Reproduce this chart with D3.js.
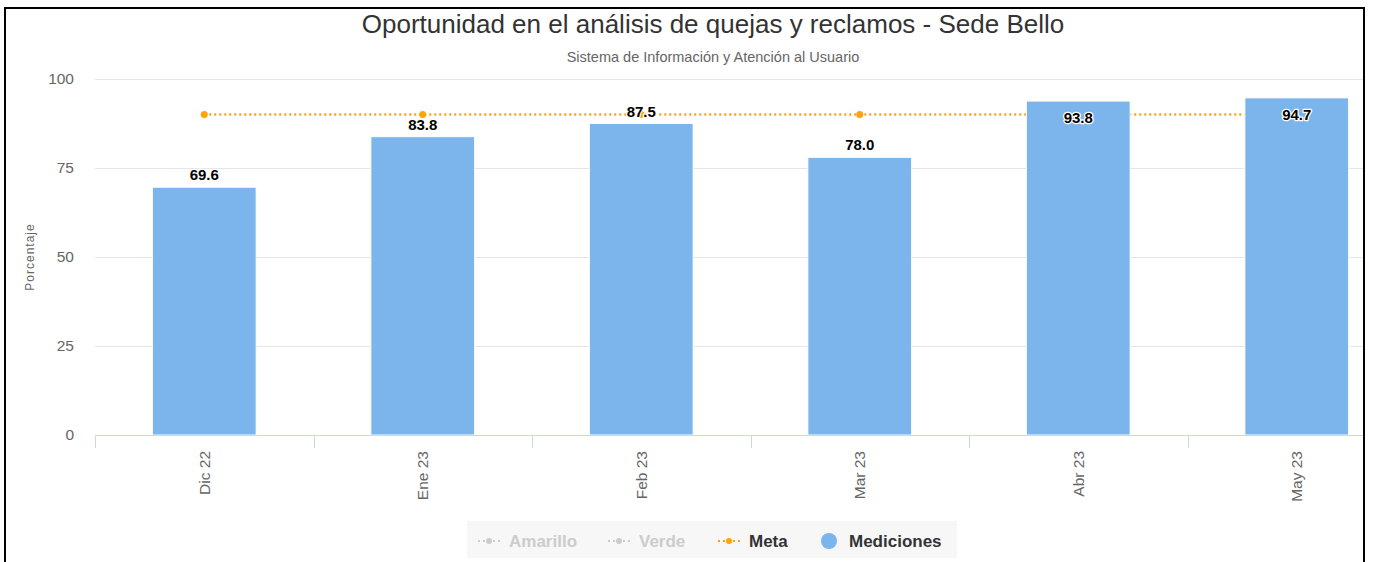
<!DOCTYPE html>
<html>
<head>
<meta charset="utf-8">
<script src="https://cdn.jsdelivr.net/npm/d3@7"></script>
<style>
  body { margin: 0; background: #fff; }
  svg { display: block; font-family: "Liberation Sans", Arial, sans-serif; }
</style>
</head>
<body>
<svg id="chart" width="1373" height="562"></svg>
<script>
var categories = ["Dic 22", "Ene 23", "Feb 23", "Mar 23", "Abr 23", "May 23"],
    mediciones = [69.6, 83.8, 87.5, 78.0, 93.8, 94.7],
    meta       = [90, 90, 90, 90, 90, 90],
    yTicks     = [0, 25, 50, 75, 100]

var legendItems = [
  { name: "Amarillo",   type: "line", color: "#cccccc", hidden: true },
  { name: "Verde",      type: "line", color: "#cccccc", hidden: true },
  { name: "Meta",       type: "line", color: "#ffa500", hidden: false },
  { name: "Mediciones", type: "dot",  color: "#7cb5ec", hidden: false }
]

var svg = d3.select("#chart")

// plot area runs past the frame on the right, the frame clips it
var margin = {top: 79, left: 95},
    plotW  = 1311,
    plotH  = 356

svg.append("defs").append("clipPath").attr("id", "frameclip")
  .append("rect").attr("x", 6).attr("y", 8).attr("width", 1358).attr("height", 560)

var x = d3.scaleBand()
  .domain(categories)
  .range([margin.left, margin.left + plotW])
  .paddingInner(0.525)
  .paddingOuter(0.2625)

var y = d3.scaleLinear()
  .domain([0, 100])
  .range([margin.top + plotH, margin.top])

var cx = d => x(d) + x.bandwidth() / 2

var g = svg.append("g").attr("clip-path", "url(#frameclip)")

// gridlines
g.append("g").selectAll("line")
  .data(yTicks.filter(t => t > 0))
  .join("line")
    .attr("x1", margin.left)
    .attr("x2", margin.left + plotW)
    .attr("y1", d => y(d) + 0.5)
    .attr("y2", d => y(d) + 0.5)
    .attr("stroke", "#e6e6e6")

// meta line (drawn under the bars)
var line = d3.line()
  .x((d, i) => cx(categories[i]))
  .y(d => y(d))

g.append("path")
  .datum(meta)
  .attr("fill", "none")
  .attr("stroke", "#ffa500")
  .attr("stroke-width", 2.5)
  .attr("stroke-dasharray", "2,3")
  .attr("d", line)

g.append("g").selectAll("circle")
  .data(meta)
  .join("circle")
    .attr("cx", (d, i) => cx(categories[i]))
    .attr("cy", d => y(d))
    .attr("r", 3.5)
    .attr("fill", "#ffa500")

// bars
g.append("g").selectAll("rect")
  .data(mediciones)
  .join("rect")
    .attr("x", (d, i) => x(categories[i]))
    .attr("y", d => y(d))
    .attr("width", x.bandwidth())
    .attr("height", d => y(0) - y(d))
    .attr("fill", "#7cb5ec")
    .attr("stroke", "#ffffff")
    .attr("stroke-width", 1)

// data labels
g.append("g").selectAll("text")
  .data(mediciones)
  .join("text")
    .attr("x", (d, i) => cx(categories[i]))
    .attr("y", d => (y(d) - 24 < margin.top) ? y(d) + 22 : y(d) - 7)
    .attr("text-anchor", "middle")
    .attr("font-size", 15)
    .attr("font-weight", "bold")
    .attr("fill", "#000")
    .attr("stroke", "#fff")
    .attr("stroke-width", 2.5)
    .attr("stroke-linejoin", "round")
    .attr("paint-order", "stroke")
    .text(d => d.toFixed(1))

// x axis
var xa = g.append("g")
xa.append("line")
  .attr("x1", margin.left).attr("x2", margin.left + plotW)
  .attr("y1", y(0) + 0.5).attr("y2", y(0) + 0.5)
  .attr("stroke", "#ccd6eb")
xa.selectAll("line.tick")
  .data(d3.range(categories.length + 1))
  .join("line")
    .attr("class", "tick")
    .attr("x1", i => Math.round(margin.left + i * plotW / categories.length) + 0.5)
    .attr("x2", i => Math.round(margin.left + i * plotW / categories.length) + 0.5)
    .attr("y1", y(0))
    .attr("y2", y(0) + 13)
    .attr("stroke", "#ccd6eb")
xa.selectAll("text")
  .data(categories)
  .join("text")
    .attr("transform", d => "translate(" + (cx(d) + 5.5) + "," + (y(0) + 16) + ") rotate(-90)")
    .attr("text-anchor", "end")
    .attr("font-size", 15.5)
    .attr("fill", "#666")
    .text(d => d)

// y axis labels
svg.append("g").selectAll("text")
  .data(yTicks)
  .join("text")
    .attr("x", 74)
    .attr("y", d => y(d) + 5)
    .attr("text-anchor", "end")
    .attr("font-size", 15.5)
    .attr("fill", "#666")
    .text(d => d)

svg.append("text")
  .attr("transform", "translate(34," + (margin.top + plotH / 2) + ") rotate(-90)")
  .attr("text-anchor", "middle")
  .attr("font-size", 12)
  .attr("letter-spacing", 1)
  .attr("fill", "#666")
  .text("Porcentaje")

// titles
svg.append("text")
  .attr("x", 713).attr("y", 33)
  .attr("text-anchor", "middle")
  .attr("font-size", 26)
  .attr("fill", "#333")
  .text("Oportunidad en el análisis de quejas y reclamos - Sede Bello")

svg.append("text")
  .attr("x", 713).attr("y", 62)
  .attr("text-anchor", "middle")
  .attr("font-size", 14.5)
  .attr("fill", "#666")
  .text("Sistema de Información y Atención al Usuario")

// legend
var lg = svg.append("g")
lg.append("rect")
  .attr("x", 467).attr("y", 521).attr("width", 490).attr("height", 37)
  .attr("fill", "#f7f7f7")

var legendX = [478, 608, 718, 820]
legendItems.forEach((it, i) => {
  var lx = legendX[i], ly = 541
  var tx
  if(it.type == "line") {
    lg.append("line")
      .attr("x1", lx).attr("x2", lx + 22)
      .attr("y1", ly).attr("y2", ly)
      .attr("stroke", it.color)
      .attr("stroke-width", 2)
      .attr("stroke-dasharray", "2,3")
    lg.append("circle")
      .attr("cx", lx + 11).attr("cy", ly).attr("r", 3)
      .attr("fill", it.color)
    tx = lx + 31
  } else {
    lg.append("circle")
      .attr("cx", lx + 9).attr("cy", ly).attr("r", 8)
      .attr("fill", it.color)
    tx = lx + 29
  }
  lg.append("text")
    .attr("x", tx).attr("y", ly + 6)
    .attr("font-size", 17)
    .attr("font-weight", "bold")
    .attr("fill", it.hidden ? "#cccccc" : "#333")
    .text(it.name)
})

// frame
svg.append("path")
  .attr("d", "M5,570 V8 H1364 V570")
  .attr("fill", "none")
  .attr("stroke", "#000")
  .attr("stroke-width", 2)
</script>
</body>
</html>
